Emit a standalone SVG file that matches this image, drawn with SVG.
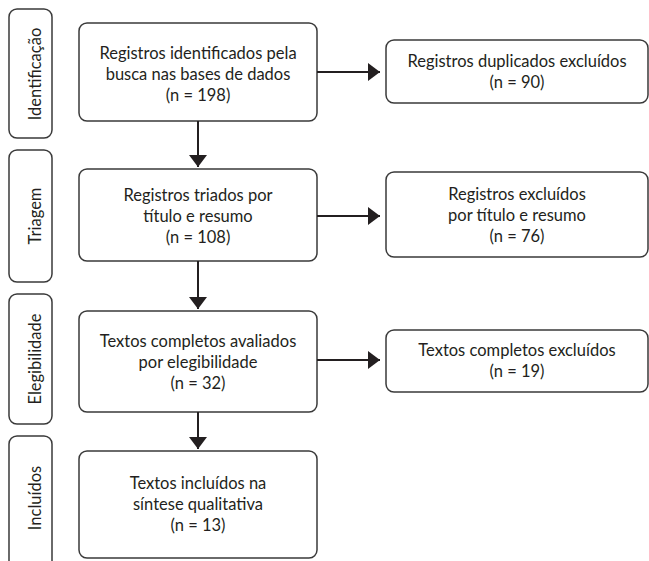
<svg xmlns="http://www.w3.org/2000/svg" width="649" height="561" viewBox="0 0 649 561">
<style>
.box{fill:#fff;stroke:#3a3a3a;stroke-width:1.5}
.t{font-family:Lato,"Open Sans","Liberation Sans",sans-serif;font-size:16.5px;fill:#231f20;text-anchor:middle}
.lab{font-family:Lato,"Open Sans","Liberation Sans",sans-serif;font-size:16.5px;fill:#231f20;text-anchor:middle}
.ln{stroke:#231f20;stroke-width:2;fill:none}
</style>
<defs>
<marker id="ah" markerWidth="12" markerHeight="18" viewBox="0 0 12 18" refX="12" refY="9" orient="auto" markerUnits="userSpaceOnUse">
<path d="M0,0 L12,9 L0,18 Z" fill="#231f20"/>
</marker>
</defs>
<rect width="649" height="561" fill="#fff"/>
<g id="stage-identificacao"><rect class="box" x="9" y="9" width="43" height="129" rx="8"/><text class="lab" transform="translate(41,74) rotate(-90)">Identificação</text></g>
<g id="stage-triagem"><rect class="box" x="9" y="150" width="43" height="132" rx="8"/><text class="lab" transform="translate(41,216) rotate(-90)">Triagem</text></g>
<g id="stage-elegibilidade"><rect class="box" x="9" y="294" width="43" height="130" rx="8"/><text class="lab" transform="translate(41,359) rotate(-90)">Elegibilidade</text></g>
<g id="stage-incluidos"><rect class="box" x="9" y="436" width="43" height="140" rx="8"/><text class="lab" transform="translate(41,498) rotate(-90)">Incluídos</text></g>

<g id="n1"><rect class="box" x="79" y="23" width="238" height="98" rx="8"/><text class="t" x="198" y="58.5">Registros identificados pela</text><text class="t" x="198" y="79.5">busca nas bases de dados</text><text class="t" x="198" y="100.5">(n = 198)</text></g>
<g id="n2"><rect class="box" x="79" y="169" width="238" height="92" rx="8"/><text class="t" x="198" y="201">Registros triados por</text><text class="t" x="198" y="222">título e resumo</text><text class="t" x="198" y="243">(n = 108)</text></g>
<g id="n3"><rect class="box" x="79" y="311" width="238" height="101" rx="8"/><text class="t" x="198" y="347">Textos completos avaliados</text><text class="t" x="198" y="368">por elegibilidade</text><text class="t" x="198" y="389">(n = 32)</text></g>
<g id="n4"><rect class="box" x="79" y="451" width="238" height="107" rx="8"/><text class="t" x="198" y="489">Textos incluídos na</text><text class="t" x="198" y="510">síntese qualitativa</text><text class="t" x="198" y="531">(n = 13)</text></g>

<g id="r1"><rect class="box" x="386" y="40" width="262" height="63" rx="8"/><text class="t" x="517" y="67">Registros duplicados excluídos</text><text class="t" x="517" y="88">(n = 90)</text></g>
<g id="r2"><rect class="box" x="386" y="172" width="262" height="85" rx="8"/><text class="t" x="517" y="200">Registros excluídos</text><text class="t" x="517" y="221">por título e resumo</text><text class="t" x="517" y="242">(n = 76)</text></g>
<g id="r3"><rect class="box" x="386" y="330" width="262" height="62" rx="8"/><text class="t" x="517" y="356">Textos completos excluídos</text><text class="t" x="517" y="377">(n = 19)</text></g>

<g id="connectors">
<line class="ln" x1="198" y1="121" x2="198" y2="167" marker-end="url(#ah)"/>
<line class="ln" x1="198" y1="261" x2="198" y2="309" marker-end="url(#ah)"/>
<line class="ln" x1="198" y1="412" x2="198" y2="449" marker-end="url(#ah)"/>
<line class="ln" x1="317" y1="72" x2="380" y2="72" marker-end="url(#ah)"/>
<line class="ln" x1="317" y1="216" x2="380" y2="216" marker-end="url(#ah)"/>
<line class="ln" x1="317" y1="360" x2="380" y2="360" marker-end="url(#ah)"/>
</g>
</svg>
